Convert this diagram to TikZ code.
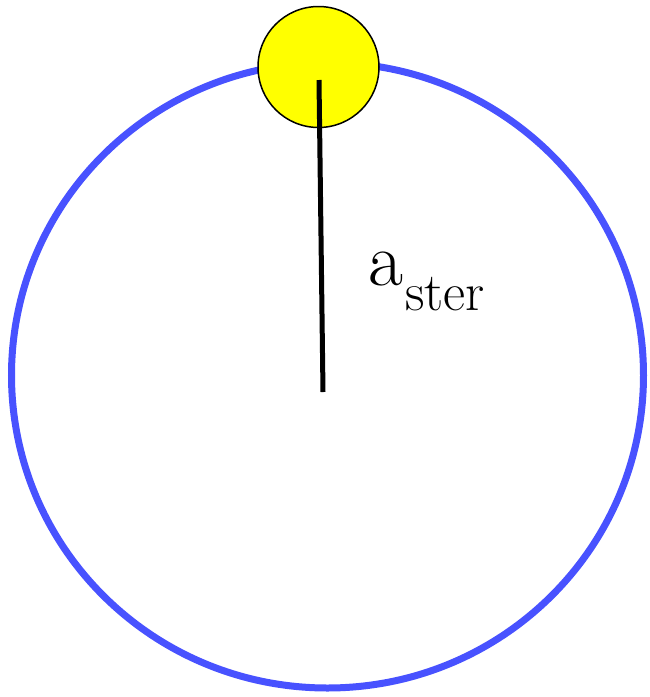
\documentclass[tikz,border=0pt]{standalone}
\begin{document}
\begin{tikzpicture}[x=1pt,y=-1pt,
  orbit/.style={draw={rgb,255:red,72;green,82;blue,255},line width=7pt},
  starball/.style={circle,draw=black,fill={rgb,255:red,255;green,255;blue,0},line width=1.5pt,minimum size=121pt,inner sep=0pt},
  radiusline/.style={draw=black,line width=5pt},
  lbl/.style={inner sep=0pt,anchor=base west}]
\useasboundingbox (0,0) rectangle (650,697);
\draw[orbit] (327.5,375.3) ellipse [x radius=316, y radius=312.7];
\node[starball] (star) at (318.5,67) {};
\coordinate (top) at (319,80);
\coordinate (centre) at (323,392);
\draw[radiusline] (top) -- (centre);
\node[lbl] (a) at (368,285) {\fontsize{76}{90}\selectfont a};
\node[lbl] (sub) at (405,310) {\fontsize{54}{64}\selectfont ster};
\end{tikzpicture}
\end{document}
